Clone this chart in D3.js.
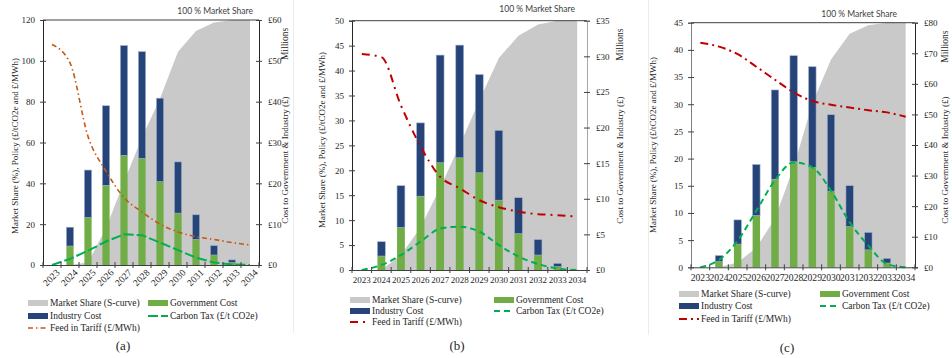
<!DOCTYPE html>
<html>
<head>
<meta charset="utf-8">
<script src="https://cdn.jsdelivr.net/npm/d3@7"></script>
<style>
  body { margin: 0; background: #fff; }
  svg { display: block; }
  text { font-family: "Liberation Serif", "Times New Roman", serif; fill: #262626; }
  .note { font-family: Lato, "Liberation Sans", sans-serif; fill: #404040; }
</style>
</head>
<body>
<svg id="chart" width="952" height="358"></svg>
<script>
// categories
const years = ["2023", "2024", "2025", "2026", "2027", "2028", "2029", "2030", "2031", "2032", "2033", "2034"]

// panel (a) — share in %, policy in £/unit, costs in £ millions
const shareA = [0, 0, 1, 15, 34, 52, 68, 87, 95.5, 99, 100, 100]
const govA = [0, 4.65, 11.6, 19.5, 26.85, 26.1, 20.4, 12.7, 6.3, 2.45, 0.6, 0]
const industryA = [0, 4.6, 11.65, 19.5, 26.9, 26.15, 20.45, 12.55, 6.0, 2.3, 0.65, 0]
const taxA = [0, 3.0, 7.0, 11.5, 15.0, 14.6, 11.0, 7.3, 3.6, 1.2, 0.3, 0]
const tariffA = [108, 99, 63, 46, 33, 26, 20, 16.2, 13.9, 12.5, 11, 9.8]

// panel (b)
const shareB = [0, 0, 6, 17, 33, 50, 68, 85, 94, 98.5, 100, 100]
const govB = [0, 1.96, 5.95, 10.36, 15.05, 15.75, 13.65, 9.8, 5.1, 2.1, 0.47, 0]
const industryB = [0, 2.01, 5.88, 10.29, 15.12, 15.82, 13.79, 9.8, 5.05, 2.17, 0.46, 0]
const taxB = [0, 1.0, 3.0, 5.7, 8.3, 8.7, 7.7, 5.0, 2.7, 1.2, 0.3, 0]
const tariffB = [43.3, 42.7, 33, 24.8, 18.7, 16.4, 14, 12.6, 11.7, 11.2, 11, 10.7]

// panel (c)
const shareC = [0, 0, 2, 8, 20, 41, 67, 85, 95.5, 99, 100, 100]
const govC = [0, 1.87, 7.6, 16.9, 28.8, 34.5, 32.7, 24.9, 13.3, 5.7, 1.4, 0]
const industryC = [0, 1.95, 7.9, 16.7, 29.2, 34.7, 32.9, 25.0, 13.4, 5.7, 1.5, 0]
const taxC = [0, 1.35, 4.9, 10.4, 16, 19.3, 18.4, 14.1, 8.3, 4.0, 0.6, 0]
const tariffC = [41.3, 40.6, 39.2, 36.9, 34.5, 32.2, 30.6, 29.9, 29.4, 28.9, 28.5, 27.7]

// axis ticks
const leftTicksA = [0, 20, 40, 60, 80, 100, 120]
const rightTicksA = [0, 10, 20, 30, 40, 50, 60]
const leftTicksB = [0, 5, 10, 15, 20, 25, 30, 35, 40, 45, 50]
const rightTicksB = [0, 5, 10, 15, 20, 25, 30, 35]
const leftTicksC = [0, 5, 10, 15, 20, 25, 30, 35, 40, 45]
const rightTicksC = [0, 10, 20, 30, 40, 50, 60, 70, 80]

const legendLabels = ["Market Share (S-curve)", "Government Cost", "Industry Cost", "Carbon Tax (£/t CO2e)", "Feed in Tariff (£/MWh)"]

const GREY = "#c9c9c9"
const GREEN = "#70ad47"
const NAVY = "#264478"
const TAX_GREEN = "#00b050"

const panels = [
    {
        id: "a", share: shareA, gov: govA, industry: industryA, tax: taxA, tariff: tariffA,
        leftTicks: leftTicksA, rightTicks: rightTicksA,
        x0: 43, x1: 259, top: 20, bottom: 265,
        rotate: true, xFont: "9.5px", tariffColour: "#c55a11", tariffDash: "5,3,1.5,3", tariffWidth: 1.6,
        taxDash: "10,3", taxCurve: d3.curveLinear,
        leftTitleX: 15, leftTitleY: 146, rightTitleX: 285, rightTitleY: 160,
        noteX: 253, noteY: 14,
        legend: { x: 28, x2: 148, rows: [303, 316, 328], capX: 123, capY: 350 },
        leftAxisColour: "#262626", rightAxisColour: "#262626"
    },
    {
        id: "b", share: shareB, gov: govB, industry: industryB, tax: taxB, tariff: tariffB,
        leftTicks: leftTicksB, rightTicks: rightTicksB,
        x0: 352, x1: 587, top: 20.7, bottom: 270,
        rotate: false, xFont: "9px", tariffColour: "#c00000", tariffDash: "8,5,2,5", tariffWidth: 2,
        taxDash: "6,4", taxCurve: d3.curveMonotoneX,
        leftTitleX: 322, leftTitleY: 140, rightTitleX: 620, rightTitleY: 160,
        noteX: 575, noteY: 12,
        legend: { x: 350, x2: 494, rows: [300, 311, 322], capX: 457, capY: 350 },
        leftAxisColour: "#262626", rightAxisColour: "#a6a6a6"
    },
    {
        id: "c", share: shareC, gov: govC, industry: industryC, tax: taxC, tariff: tariffC,
        leftTicks: leftTicksC, rightTicks: rightTicksC,
        x0: 691, x1: 915, top: 22.7, bottom: 267.3,
        rotate: false, xFont: "9.6px", tariffColour: "#c00000", tariffDash: "8,4,2,4", tariffWidth: 2,
        taxDash: "6,4", taxCurve: d3.curveMonotoneX,
        leftTitleX: 653, leftTitleY: 145, rightTitleX: 945, rightTitleY: 160,
        noteX: 897, noteY: 17,
        legend: { x: 679, x2: 820, rows: [294, 306, 319], capX: 787, capY: 352 },
        leftAxisColour: "#7f7f7f", rightAxisColour: "#262626"
    }
]

const svg = d3.select("#chart")

// faint panel frames
svg.append("line").attr("x1", 293.5).attr("x2", 293.5).attr("y1", 0).attr("y2", 333)
    .attr("stroke", "#ececec")
svg.append("line").attr("x1", 648.5).attr("x2", 648.5).attr("y1", 0).attr("y2", 335)
    .attr("stroke", "#ececec")

function drawPanel(p) {
    const g = svg.append("g").attr("class", "panel-" + p.id)
    const leftMax = p.leftTicks[p.leftTicks.length - 1]
    const rightMax = p.rightTicks[p.rightTicks.length - 1]

    const x = d3.scaleBand().domain(years).range([p.x0, p.x1])
    const yLeft = d3.scaleLinear().domain([0, leftMax]).range([p.bottom, p.top])
    const yRight = d3.scaleLinear().domain([0, rightMax]).range([p.bottom, p.top])
    const yShare = d3.scaleLinear().domain([0, 100]).range([p.bottom, p.top])
    const cx = (year) => x(year) + x.bandwidth() / 2

    // market share S-curve
    g.append("path")
        .datum(years.map((year, i) => ({ year, v: p.share[i] })))
        .attr("fill", GREY)
        .attr("d", d3.area().x((d) => cx(d.year)).y0(p.bottom).y1((d) => yShare(d.v)))

    // stacked bars
    const rows = years.map((year, i) => ({ year, gov: p.gov[i], industry: p.industry[i] }))
    const stacked = d3.stack().keys(["gov", "industry"])(rows)
    const barW = x.bandwidth() * 0.4
    const colours = { gov: GREEN, industry: NAVY }
    g.append("g")
        .selectAll("g")
        .data(stacked)
        .join("g")
        .attr("fill", (s) => colours[s.key])
        .attr("stroke", (s) => (s.key === "industry" ? "#9fb0cf" : "none"))
        .attr("stroke-width", 0.6)
        .selectAll("rect")
        .data((s) => s.filter((d) => d[1] - d[0] > 0))
        .join("rect")
        .attr("x", (d) => cx(d.data.year) - barW / 2)
        .attr("width", barW)
        .attr("y", (d) => yRight(d[1]))
        .attr("height", (d) => yRight(d[0]) - yRight(d[1]))

    // policy lines
    const line = (curve) => d3.line().x((d) => cx(d.year)).y((d) => yLeft(d.v)).curve(curve)
    g.append("path")
        .datum(years.map((year, i) => ({ year, v: p.tax[i] })))
        .attr("fill", "none")
        .attr("stroke", TAX_GREEN)
        .attr("stroke-width", 2)
        .attr("stroke-dasharray", p.taxDash)
        .attr("d", line(p.taxCurve))
    g.append("path")
        .datum(years.map((year, i) => ({ year, v: p.tariff[i] })))
        .attr("fill", "none")
        .attr("stroke", p.tariffColour)
        .attr("stroke-width", p.tariffWidth)
        .attr("stroke-dasharray", p.tariffDash)
        .attr("d", line(d3.curveMonotoneX))

    // frame top
    g.append("line").attr("x1", p.x0).attr("x2", p.x1).attr("y1", p.top).attr("y2", p.top)
        .attr("stroke", "#404040").attr("stroke-width", 1)

    // left axis
    const left = g.append("g")
        .attr("transform", `translate(${p.x0},0)`)
        .call(d3.axisLeft(yLeft).tickValues(p.leftTicks).tickSizeOuter(0).tickSize(3).tickPadding(5))
    left.select(".domain").attr("stroke", p.leftAxisColour)
    left.selectAll(".tick line").attr("x2", -3).attr("x1", 3).attr("stroke", "#404040")
    left.selectAll(".tick text").style("font-family", "Liberation Serif").style("font-size", "9px").attr("fill", "#333")

    // right axis
    const right = g.append("g")
        .attr("transform", `translate(${p.x1},0)`)
        .call(d3.axisRight(yRight).tickValues(p.rightTicks).tickFormat((d) => "£" + d)
            .tickSizeOuter(0).tickSize(3).tickPadding(6))
    right.select(".domain").attr("stroke", p.rightAxisColour)
    right.selectAll(".tick line").attr("x1", -3).attr("x2", 3).attr("stroke", "#404040")
    right.selectAll(".tick text").style("font-family", "Liberation Serif").style("font-size", "9px").attr("fill", "#333")

    // bottom axis: labels at category centres, ticks at category edges
    const bottom = g.append("g")
        .attr("transform", `translate(0,${p.bottom})`)
        .call(d3.axisBottom(x).tickSize(0).tickPadding(p.rotate ? 6 : 7))
    bottom.select(".domain").attr("stroke", "#404040")
    bottom.selectAll(".tick text").style("font-family", "Liberation Serif").style("font-size", p.xFont).attr("fill", "#333")
    if (p.rotate) {
        bottom.selectAll(".tick text")
            .attr("text-anchor", "end")
            .attr("dy", "0.3em")
            .attr("transform", "translate(2,2) rotate(-45)")
    }
    g.append("g")
        .selectAll("line")
        .data(years.concat(["end"]))
        .join("line")
        .attr("x1", (d) => (d === "end" ? p.x1 : x(d)))
        .attr("x2", (d) => (d === "end" ? p.x1 : x(d)))
        .attr("y1", p.bottom - 3)
        .attr("y2", p.bottom + 3)
        .attr("stroke", "#404040")

    // axis titles
    g.append("text")
        .attr("transform", `translate(${p.leftTitleX},${p.leftTitleY}) rotate(-90)`)
        .attr("text-anchor", "middle")
        .attr("dy", "0.35em")
        .style("font-size", "9px")
        .text("Market Share (%), Policy (£/tCO2e and £/MWh)")
    g.append("text")
        .attr("transform", `translate(${p.rightTitleX},${p.rightTitleY}) rotate(-90)`)
        .attr("text-anchor", "middle")
        .attr("dy", "0.35em")
        .style("font-size", "9px")
        .text("Cost to Government & Industry (£)")
    g.append("text")
        .attr("transform", `translate(${p.rightTitleX},${p.top + 24}) rotate(-90)`)
        .attr("text-anchor", "middle")
        .attr("dy", "0.35em")
        .style("font-size", "9.5px")
        .text("Millions")

    g.append("text")
        .attr("class", "note")
        .attr("x", p.noteX)
        .attr("y", p.noteY)
        .attr("text-anchor", "end")
        .style("font-size", "8.5px")
        .text("100 % Market Share")

    // legend
    const L = p.legend
    const lg = g.append("g").style("font-size", "9.5px")
    const items = [
        { col: 0, row: 0, type: "rect", fill: GREY },
        { col: 1, row: 0, type: "rect", fill: GREEN },
        { col: 0, row: 1, type: "rect", fill: NAVY },
        { col: 1, row: 1, type: "line", stroke: TAX_GREEN, dash: p.taxDash, width: 2 },
        { col: 0, row: 2, type: "line", stroke: p.tariffColour, dash: p.tariffDash, width: p.tariffWidth }
    ]
    items.forEach((it, i) => {
        const sx = it.col === 0 ? L.x : L.x2
        const sy = L.rows[it.row]
        if (it.type === "rect") {
            lg.append("rect").attr("x", sx).attr("y", sy - 3).attr("width", 20).attr("height", 6).attr("fill", it.fill)
        } else {
            lg.append("line").attr("x1", sx).attr("x2", sx + 20).attr("y1", sy).attr("y2", sy)
                .attr("stroke", it.stroke).attr("stroke-width", it.width).attr("stroke-dasharray", it.dash)
        }
        lg.append("text").attr("x", sx + 22).attr("y", sy).attr("dy", "0.35em").text(legendLabels[i])
    })

    g.append("text")
        .attr("x", L.capX)
        .attr("y", L.capY)
        .attr("text-anchor", "middle")
        .style("font-size", "13px")
        .text(`(${p.id})`)
}

panels.forEach(drawPanel)
</script>
</body>
</html>
